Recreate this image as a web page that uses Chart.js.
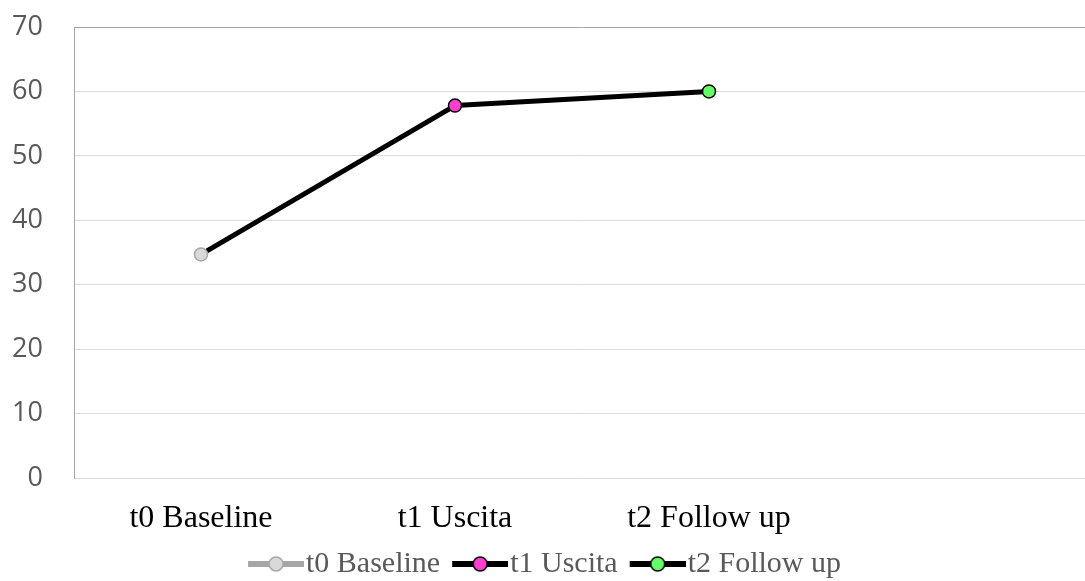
<!DOCTYPE html>
<html>
<head>
<meta charset="utf-8">
<script src="https://cdn.jsdelivr.net/npm/chart.js@4.4.0/dist/chart.umd.min.js"></script>
<style>
  html, body { margin: 0; padding: 0; background: #ffffff; overflow: hidden; }
  #wrap { position: relative; margin-left: -13px; width: 1111px; height: 589px; }
</style>
</head>
<body>
<div id="wrap"><canvas id="c"></canvas></div>
<script>
const categories = ['t0 Baseline', 't1 Uscita', 't2 Follow up', ''];
const seriesNames = ['t0 Baseline', 't1 Uscita', 't2 Follow up'];
const t0Values = [34.7, null, null, null];
const t1Values = [34.7, 57.8, null, null];
const t2Values = [null, 57.8, 60.0, null];
const yTicks = [0, 10, 20, 30, 40, 50, 60, 70];

const markerFill = ['#d9d9d9', '#ff3fd0', '#66ff66'];
const markerEdge = ['#a6a6a6', '#000000', '#000000'];
const lineColors = ['#a6a6a6', '#000000', '#000000'];

const LEG_FONT = 30;
const ICON_BLANK = 17;
function legendIcon(i) {
  const e = ICON_BLANK;        // blank margin on the left of the icon
  const c = document.createElement('canvas');
  c.width = 56 + e; c.height = 18;
  const g = c.getContext('2d');
  g.strokeStyle = lineColors[i];
  g.lineWidth = 6;
  g.beginPath(); g.moveTo(e, 9); g.lineTo(e + 56, 9); g.stroke();
  g.beginPath(); g.arc(e + 28, 9, 7, 0, Math.PI * 2);
  g.fillStyle = markerFill[i]; g.fill();
  g.lineWidth = 1.5; g.strokeStyle = markerEdge[i]; g.stroke();
  return c;
}

const datasets = [
  { label: seriesNames[0], data: t0Values, borderColor: lineColors[0], borderWidth: 5,
    pointRadius: [6.5, 0, 0, 0], pointBackgroundColor: markerFill[0], pointBorderColor: markerEdge[0],
    pointBorderWidth: 1.5, pointStyle: 'circle', legendIcon: legendIcon(0) },
  { label: seriesNames[1], data: t1Values, borderColor: lineColors[1], borderWidth: 5,
    pointRadius: [0, 6.5, 0, 0], pointBackgroundColor: markerFill[1], pointBorderColor: markerEdge[1],
    pointBorderWidth: 1.5, pointStyle: 'circle', legendIcon: legendIcon(1) },
  { label: seriesNames[2], data: t2Values, borderColor: lineColors[2], borderWidth: 5,
    pointRadius: [0, 0, 6.5, 0], pointBackgroundColor: markerFill[2], pointBorderColor: markerEdge[2],
    pointBorderWidth: 1.5, pointStyle: 'circle', legendIcon: legendIcon(2) }
];

new Chart(document.getElementById('c'), {
  type: 'line',
  data: { labels: categories, datasets: datasets },
  options: {
    responsive: true,
    maintainAspectRatio: false,
    animation: false,
    events: [],
    layout: { padding: { left: 0, right: 0, top: 27, bottom: 0 } },
    plugins: {
      tooltip: { enabled: false },
      legend: {
        position: 'bottom',
        labels: {
          usePointStyle: true,
          pointStyleWidth: 47,
          padding: 8,
          color: '#595959',
          font: { family: 'Liberation Serif', size: LEG_FONT },
          generateLabels: (chart) => chart.data.datasets.map((d, i) => ({
            text: d.label,
            pointStyle: d.legendIcon,
            fontColor: '#595959',
            fillStyle: markerFill[i],
            strokeStyle: markerEdge[i],
            lineWidth: 0,
            hidden: false,
            datasetIndex: i
          }))
        }
      }
    },
    scales: {
      x: {
        type: 'category',
        offset: true,
        afterFit: (s) => { s.height = 63; },
        grid: { display: false, drawTicks: false },
        border: { display: false },
        ticks: {
          color: '#000000',
          padding: 21,
          maxRotation: 0,
          autoSkip: false,
          font: { family: 'Liberation Serif', size: 32 }
        }
      },
      y: {
        min: 0,
        max: 70,
        afterBuildTicks: (s) => { s.ticks = yTicks.map(v => ({ value: v })); },
        afterFit: (s) => { s.width = 87; s.paddingTop = 0; s.paddingBottom = 0; },
        grid: {
          drawTicks: false,
          color: (ctx) => (ctx.tick && ctx.tick.value === 70) ? '#a6a6a6' : '#d9d9d9',
          lineWidth: 1
        },
        border: { display: true, color: '#a6a6a6', width: 1 },
        ticks: {
          color: '#595959',
          padding: 31,
          font: { family: 'Open Sans', size: 27 }
        }
      }
    }
  }
});
</script>
</body>
</html>
